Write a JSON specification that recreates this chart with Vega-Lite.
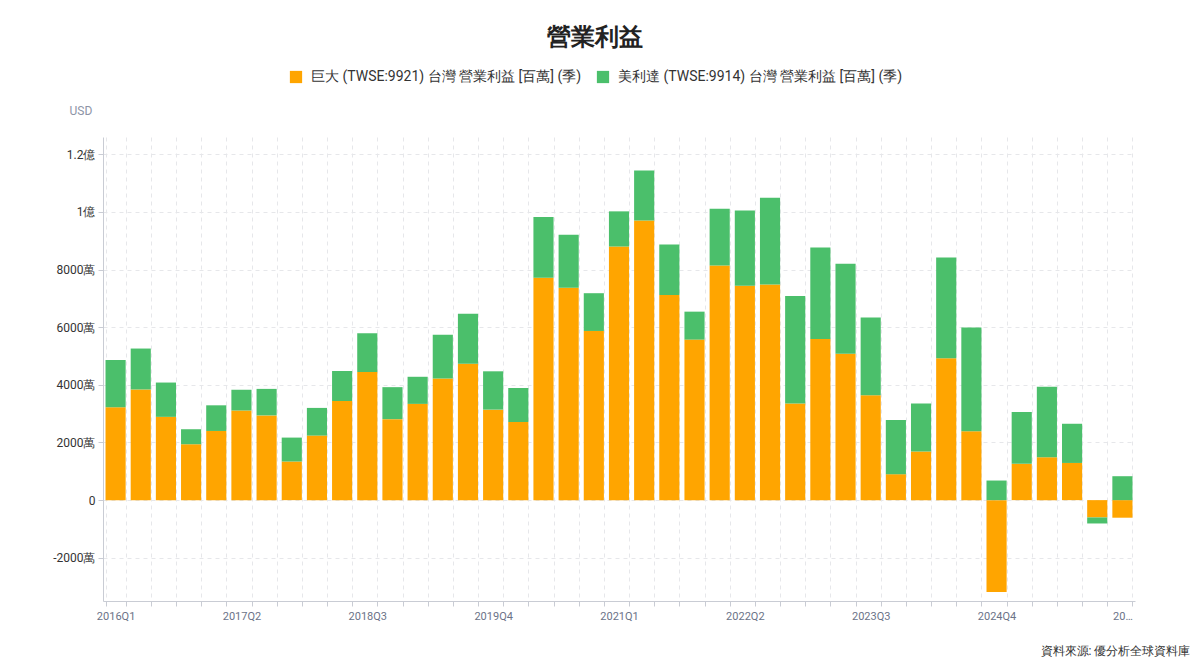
{
  "$schema": "https://vega.github.io/schema/vega-lite/v6.json",
  "width": 1032,
  "height": 464,
  "autosize": {"type": "none"},
  "padding": {"left": 103, "top": 137, "right": 65, "bottom": 70},
  "title": {
    "text": "營業利益",
    "anchor": "middle",
    "frame": "group",
    "dx": -24,
    "offset": 20,
    "fontSize": 24,
    "fontWeight": "bold",
    "color": "#222222"
  },
  "config": {
    "font": "Roboto",
    "view": {"stroke": null}
  },
  "data": {
    "values": [
      {"q": "2016Q1", "c": "巨大 (TWSE:9921) 台灣 營業利益 [百萬] (季)", "v": 32.2},
      {"q": "2016Q1", "c": "美利達 (TWSE:9914) 台灣 營業利益 [百萬] (季)", "v": 16.4},
      {"q": "2016Q2", "c": "巨大 (TWSE:9921) 台灣 營業利益 [百萬] (季)", "v": 38.4},
      {"q": "2016Q2", "c": "美利達 (TWSE:9914) 台灣 營業利益 [百萬] (季)", "v": 14.2},
      {"q": "2016Q3", "c": "巨大 (TWSE:9921) 台灣 營業利益 [百萬] (季)", "v": 28.9},
      {"q": "2016Q3", "c": "美利達 (TWSE:9914) 台灣 營業利益 [百萬] (季)", "v": 11.9},
      {"q": "2016Q4", "c": "巨大 (TWSE:9921) 台灣 營業利益 [百萬] (季)", "v": 19.4},
      {"q": "2016Q4", "c": "美利達 (TWSE:9914) 台灣 營業利益 [百萬] (季)", "v": 5.2},
      {"q": "2017Q1", "c": "巨大 (TWSE:9921) 台灣 營業利益 [百萬] (季)", "v": 24.0},
      {"q": "2017Q1", "c": "美利達 (TWSE:9914) 台灣 營業利益 [百萬] (季)", "v": 8.9},
      {"q": "2017Q2", "c": "巨大 (TWSE:9921) 台灣 營業利益 [百萬] (季)", "v": 31.1},
      {"q": "2017Q2", "c": "美利達 (TWSE:9914) 台灣 營業利益 [百萬] (季)", "v": 7.2},
      {"q": "2017Q3", "c": "巨大 (TWSE:9921) 台灣 營業利益 [百萬] (季)", "v": 29.4},
      {"q": "2017Q3", "c": "美利達 (TWSE:9914) 台灣 營業利益 [百萬] (季)", "v": 9.2},
      {"q": "2017Q4", "c": "巨大 (TWSE:9921) 台灣 營業利益 [百萬] (季)", "v": 13.4},
      {"q": "2017Q4", "c": "美利達 (TWSE:9914) 台灣 營業利益 [百萬] (季)", "v": 8.3},
      {"q": "2018Q1", "c": "巨大 (TWSE:9921) 台灣 營業利益 [百萬] (季)", "v": 22.4},
      {"q": "2018Q1", "c": "美利達 (TWSE:9914) 台灣 營業利益 [百萬] (季)", "v": 9.6},
      {"q": "2018Q2", "c": "巨大 (TWSE:9921) 台灣 營業利益 [百萬] (季)", "v": 34.4},
      {"q": "2018Q2", "c": "美利達 (TWSE:9914) 台灣 營業利益 [百萬] (季)", "v": 10.4},
      {"q": "2018Q3", "c": "巨大 (TWSE:9921) 台灣 營業利益 [百萬] (季)", "v": 44.5},
      {"q": "2018Q3", "c": "美利達 (TWSE:9914) 台灣 營業利益 [百萬] (季)", "v": 13.4},
      {"q": "2018Q4", "c": "巨大 (TWSE:9921) 台灣 營業利益 [百萬] (季)", "v": 28.1},
      {"q": "2018Q4", "c": "美利達 (TWSE:9914) 台灣 營業利益 [百萬] (季)", "v": 11.1},
      {"q": "2019Q1", "c": "巨大 (TWSE:9921) 台灣 營業利益 [百萬] (季)", "v": 33.4},
      {"q": "2019Q1", "c": "美利達 (TWSE:9914) 台灣 營業利益 [百萬] (季)", "v": 9.4},
      {"q": "2019Q2", "c": "巨大 (TWSE:9921) 台灣 營業利益 [百萬] (季)", "v": 42.2},
      {"q": "2019Q2", "c": "美利達 (TWSE:9914) 台灣 營業利益 [百萬] (季)", "v": 15.2},
      {"q": "2019Q3", "c": "巨大 (TWSE:9921) 台灣 營業利益 [百萬] (季)", "v": 47.3},
      {"q": "2019Q3", "c": "美利達 (TWSE:9914) 台灣 營業利益 [百萬] (季)", "v": 17.4},
      {"q": "2019Q4", "c": "巨大 (TWSE:9921) 台灣 營業利益 [百萬] (季)", "v": 31.4},
      {"q": "2019Q4", "c": "美利達 (TWSE:9914) 台灣 營業利益 [百萬] (季)", "v": 13.3},
      {"q": "2020Q1", "c": "巨大 (TWSE:9921) 台灣 營業利益 [百萬] (季)", "v": 27.1},
      {"q": "2020Q1", "c": "美利達 (TWSE:9914) 台灣 營業利益 [百萬] (季)", "v": 11.8},
      {"q": "2020Q2", "c": "巨大 (TWSE:9921) 台灣 營業利益 [百萬] (季)", "v": 77.2},
      {"q": "2020Q2", "c": "美利達 (TWSE:9914) 台灣 營業利益 [百萬] (季)", "v": 21.0},
      {"q": "2020Q3", "c": "巨大 (TWSE:9921) 台灣 營業利益 [百萬] (季)", "v": 73.7},
      {"q": "2020Q3", "c": "美利達 (TWSE:9914) 台灣 營業利益 [百萬] (季)", "v": 18.4},
      {"q": "2020Q4", "c": "巨大 (TWSE:9921) 台灣 營業利益 [百萬] (季)", "v": 58.7},
      {"q": "2020Q4", "c": "美利達 (TWSE:9914) 台灣 營業利益 [百萬] (季)", "v": 13.1},
      {"q": "2021Q1", "c": "巨大 (TWSE:9921) 台灣 營業利益 [百萬] (季)", "v": 88.0},
      {"q": "2021Q1", "c": "美利達 (TWSE:9914) 台灣 營業利益 [百萬] (季)", "v": 12.2},
      {"q": "2021Q2", "c": "巨大 (TWSE:9921) 台灣 營業利益 [百萬] (季)", "v": 97.0},
      {"q": "2021Q2", "c": "美利達 (TWSE:9914) 台灣 營業利益 [百萬] (季)", "v": 17.4},
      {"q": "2021Q3", "c": "巨大 (TWSE:9921) 台灣 營業利益 [百萬] (季)", "v": 71.2},
      {"q": "2021Q3", "c": "美利達 (TWSE:9914) 台灣 營業利益 [百萬] (季)", "v": 17.5},
      {"q": "2021Q4", "c": "巨大 (TWSE:9921) 台灣 營業利益 [百萬] (季)", "v": 55.7},
      {"q": "2021Q4", "c": "美利達 (TWSE:9914) 台灣 營業利益 [百萬] (季)", "v": 9.7},
      {"q": "2022Q1", "c": "巨大 (TWSE:9921) 台灣 營業利益 [百萬] (季)", "v": 81.4},
      {"q": "2022Q1", "c": "美利達 (TWSE:9914) 台灣 營業利益 [百萬] (季)", "v": 19.7},
      {"q": "2022Q2", "c": "巨大 (TWSE:9921) 台灣 營業利益 [百萬] (季)", "v": 74.4},
      {"q": "2022Q2", "c": "美利達 (TWSE:9914) 台灣 營業利益 [百萬] (季)", "v": 26.1},
      {"q": "2022Q3", "c": "巨大 (TWSE:9921) 台灣 營業利益 [百萬] (季)", "v": 74.8},
      {"q": "2022Q3", "c": "美利達 (TWSE:9914) 台灣 營業利益 [百萬] (季)", "v": 30.1},
      {"q": "2022Q4", "c": "巨大 (TWSE:9921) 台灣 營業利益 [百萬] (季)", "v": 33.5},
      {"q": "2022Q4", "c": "美利達 (TWSE:9914) 台灣 營業利益 [百萬] (季)", "v": 37.3},
      {"q": "2023Q1", "c": "巨大 (TWSE:9921) 台灣 營業利益 [百萬] (季)", "v": 55.9},
      {"q": "2023Q1", "c": "美利達 (TWSE:9914) 台灣 營業利益 [百萬] (季)", "v": 31.8},
      {"q": "2023Q2", "c": "巨大 (TWSE:9921) 台灣 營業利益 [百萬] (季)", "v": 50.8},
      {"q": "2023Q2", "c": "美利達 (TWSE:9914) 台灣 營業利益 [百萬] (季)", "v": 31.2},
      {"q": "2023Q3", "c": "巨大 (TWSE:9921) 台灣 營業利益 [百萬] (季)", "v": 36.4},
      {"q": "2023Q3", "c": "美利達 (TWSE:9914) 台灣 營業利益 [百萬] (季)", "v": 27.0},
      {"q": "2023Q4", "c": "巨大 (TWSE:9921) 台灣 營業利益 [百萬] (季)", "v": 9.0},
      {"q": "2023Q4", "c": "美利達 (TWSE:9914) 台灣 營業利益 [百萬] (季)", "v": 18.8},
      {"q": "2024Q1", "c": "巨大 (TWSE:9921) 台灣 營業利益 [百萬] (季)", "v": 16.9},
      {"q": "2024Q1", "c": "美利達 (TWSE:9914) 台灣 營業利益 [百萬] (季)", "v": 16.6},
      {"q": "2024Q2", "c": "巨大 (TWSE:9921) 台灣 營業利益 [百萬] (季)", "v": 49.2},
      {"q": "2024Q2", "c": "美利達 (TWSE:9914) 台灣 營業利益 [百萬] (季)", "v": 35.0},
      {"q": "2024Q3", "c": "巨大 (TWSE:9921) 台灣 營業利益 [百萬] (季)", "v": 23.9},
      {"q": "2024Q3", "c": "美利達 (TWSE:9914) 台灣 營業利益 [百萬] (季)", "v": 36.0},
      {"q": "2024Q4", "c": "巨大 (TWSE:9921) 台灣 營業利益 [百萬] (季)", "v": -31.9},
      {"q": "2024Q4", "c": "美利達 (TWSE:9914) 台灣 營業利益 [百萬] (季)", "v": 6.8},
      {"q": "2025Q1", "c": "巨大 (TWSE:9921) 台灣 營業利益 [百萬] (季)", "v": 12.6},
      {"q": "2025Q1", "c": "美利達 (TWSE:9914) 台灣 營業利益 [百萬] (季)", "v": 18.0},
      {"q": "2025Q2", "c": "巨大 (TWSE:9921) 台灣 營業利益 [百萬] (季)", "v": 14.9},
      {"q": "2025Q2", "c": "美利達 (TWSE:9914) 台灣 營業利益 [百萬] (季)", "v": 24.4},
      {"q": "2025Q3", "c": "巨大 (TWSE:9921) 台灣 營業利益 [百萬] (季)", "v": 12.9},
      {"q": "2025Q3", "c": "美利達 (TWSE:9914) 台灣 營業利益 [百萬] (季)", "v": 13.6},
      {"q": "2025Q4", "c": "巨大 (TWSE:9921) 台灣 營業利益 [百萬] (季)", "v": -6.0},
      {"q": "2025Q4", "c": "美利達 (TWSE:9914) 台灣 營業利益 [百萬] (季)", "v": -2.1},
      {"q": "2026Q1", "c": "巨大 (TWSE:9921) 台灣 營業利益 [百萬] (季)", "v": -6.1},
      {"q": "2026Q1", "c": "美利達 (TWSE:9914) 台灣 營業利益 [百萬] (季)", "v": 8.3}
    ]
  },
  "mark": {"type": "bar"},
  "encoding": {
    "x": {
      "field": "q",
      "type": "ordinal",
      "sort": null,
      "scale": {"paddingInner": 0.2, "paddingOuter": 0.1},
      "axis": {
        "title": "資料來源: 優分析全球資料庫",
        "titleX": 1087,
        "titleY": 49,
        "titleAlign": "right",
        "titleBaseline": "middle",
        "titleFontSize": 12,
        "titleFontWeight": "normal",
        "titleColor": "#333333",
        "labelAngle": 0,
        "labelFontSize": 11,
        "labelColor": "#6b7388",
        "labelPadding": 4,
        "labelOverlap": false,
        "labelExpr": "((parseInt(substring(datum.value,0,4))-2016)*4 + parseInt(substring(datum.value,5,6)) - 1) % 5 == 0 ? (datum.value == '2026Q1' ? '20…' : datum.value) : ''",
        "tickBand": "extent",
        "tickSize": 5,
        "tickColor": "#c9ccd4",
        "domainColor": "#c9ccd4",
        "grid": true,
        "gridDash": [4, 4],
        "gridColor": "#e6e7ea"
      }
    },
    "y": {
      "field": "v",
      "type": "quantitative",
      "stack": "zero",
      "scale": {"domain": [-35, 126], "nice": false, "zero": false},
      "axis": {
        "title": "USD",
        "titleAngle": 0,
        "titleX": -34,
        "titleY": -27,
        "titleAlign": "left",
        "titleBaseline": "middle",
        "titleFontSize": 12,
        "titleFontWeight": "normal",
        "titleColor": "#8d94a6",
        "values": [-20, 0, 20, 40, 60, 80, 100, 120],
        "labelExpr": "datum.value == 0 ? '0' : (abs(datum.value) >= 100 ? (datum.value / 100) + '億' : (datum.value * 100) + '萬')",
        "labelFontSize": 12,
        "labelColor": "#333333",
        "labelPadding": 3,
        "tickSize": 5,
        "tickColor": "#c9ccd4",
        "domainColor": "#c9ccd4",
        "grid": true,
        "gridDash": [4, 4],
        "gridColor": "#e6e7ea"
      }
    },
    "color": {
      "field": "c",
      "type": "nominal",
      "scale": {
        "domain": ["巨大 (TWSE:9921) 台灣 營業利益 [百萬] (季)", "美利達 (TWSE:9914) 台灣 營業利益 [百萬] (季)"],
        "range": ["#ffa500", "#4bbf6b"]
      },
      "legend": {
        "title": null,
        "orient": "none",
        "direction": "horizontal",
        "legendX": 186,
        "legendY": -67,
        "symbolType": "square",
        "symbolSize": 150,
        "symbolStrokeWidth": 0,
        "labelFontSize": 14,
        "labelColor": "#333333",
        "labelLimit": 400,
        "labelOffset": 8,
        "columnPadding": 14
      }
    },
    "order": {"field": "c", "sort": "ascending"}
  }
}
